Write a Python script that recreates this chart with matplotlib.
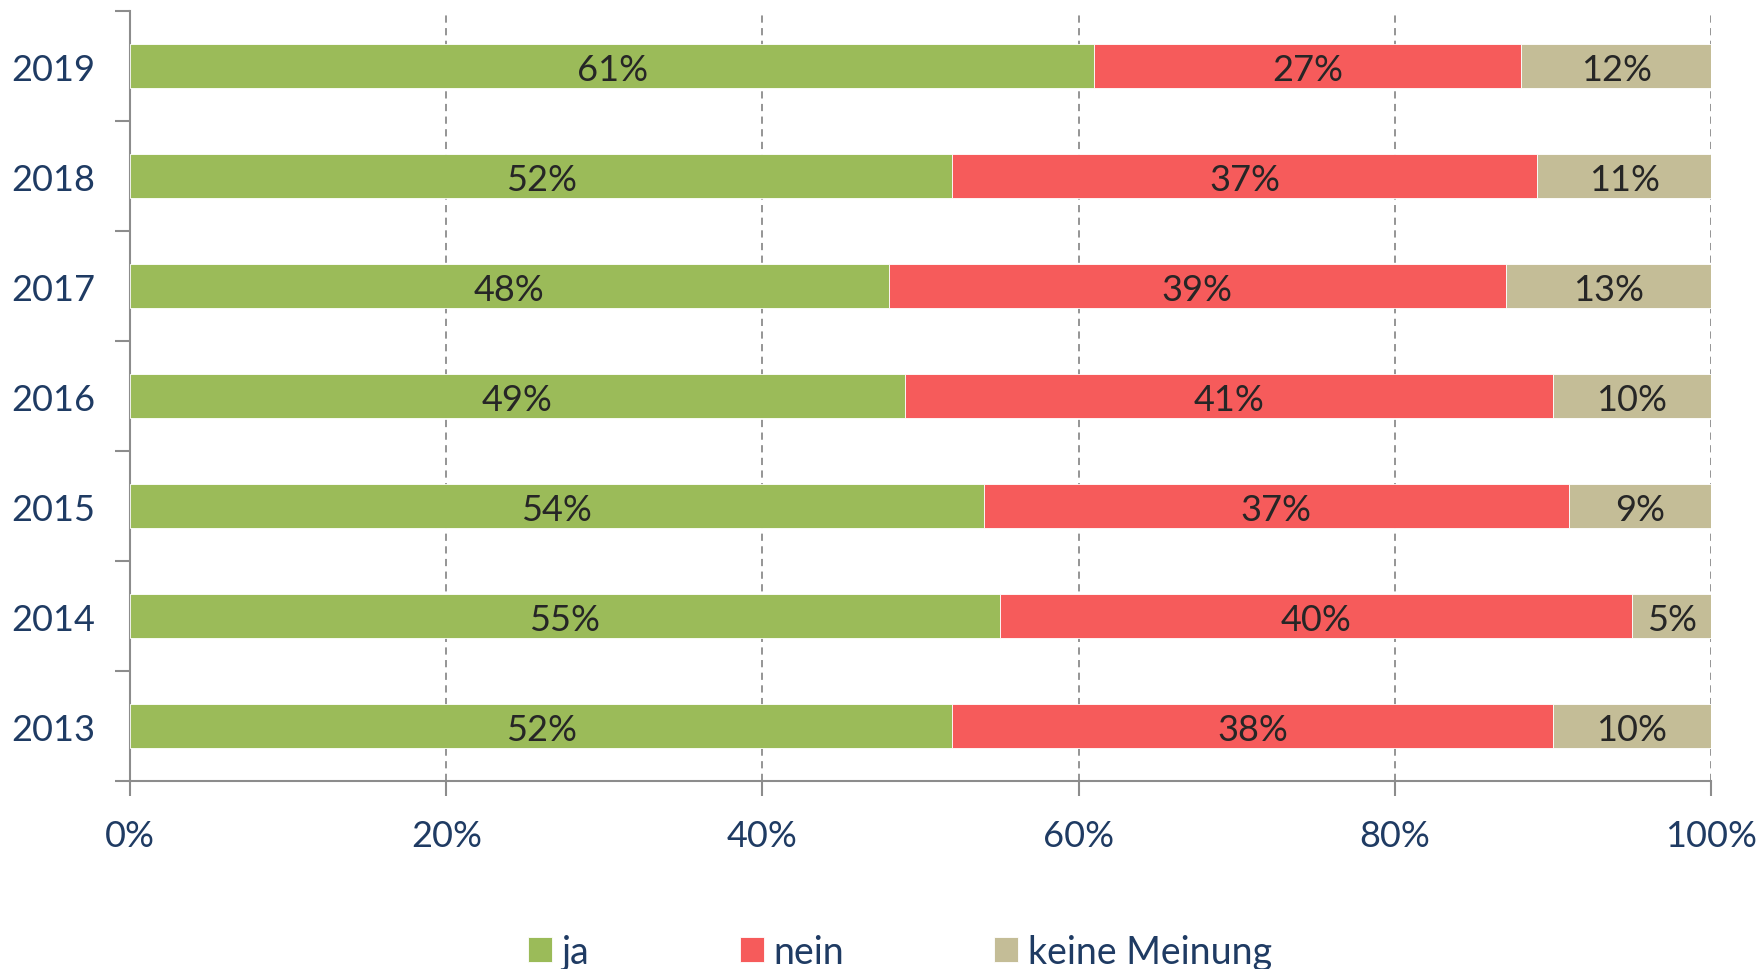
import numpy as np
import matplotlib.pyplot as plt
from matplotlib.ticker import FixedLocator

plt.rcParams['font.family'] = ['Lato', 'DejaVu Sans']

years = ["2013", "2014", "2015", "2016", "2017", "2018", "2019"]
ja = [52, 55, 54, 49, 48, 52, 61]
nein = [38, 40, 37, 41, 39, 37, 27]
keine = [10, 5, 9, 10, 13, 11, 12]

series = [("ja", ja, "#9BBB59"), ("nein", nein, "#F65B5B"), ("keine Meinung", keine, "#C4BD97")]
label_col = "#262626"
tick_col = "#1F3B63"
axis_col = "#8C8C8C"

fig = plt.figure(figsize=(17.6, 9.7), dpi=100)
ax = fig.add_axes([0.0739, 0.1938, 0.8983, 0.7938])

y = np.arange(len(years))
left = np.zeros(len(years))
for name, vals, col in series:
    vals = np.array(vals)
    ax.barh(y, vals, left=left, height=0.4, color=col, label=name,
            edgecolor="white", linewidth=0.6, zorder=3)
    for yi, l, v in zip(y, left, vals):
        ax.text(l + v / 2, yi, f"{v}%", ha="center", va="center_baseline",
                fontsize=26, color=label_col, zorder=4)
    left += vals

ax.set_xlim(0, 100)
ax.set_ylim(-0.5, len(years) - 0.5)
ax.set_xticks(np.arange(0, 101, 20))
ax.set_xticklabels([f"{t}%" for t in range(0, 101, 20)])
ax.set_yticks(y)
ax.set_yticklabels(years)
ax.yaxis.set_minor_locator(FixedLocator(np.arange(-0.5, len(years), 1.0)))

ax.tick_params(axis="y", which="major", length=0, pad=25, labelsize=26, labelcolor=tick_col)
ax.tick_params(axis="y", which="minor", length=11, width=1.5, color=axis_col, direction="out")
ax.tick_params(axis="x", which="major", length=11, width=1.5, color=axis_col, direction="out",
               pad=16, labelsize=26, labelcolor=tick_col)

ax.grid(axis="x", color="#8C8C8C", linestyle=(0, (4, 3)), linewidth=1.3, zorder=0)

for s in ["top", "right"]:
    ax.spines[s].set_visible(False)
for s in ["left", "bottom"]:
    ax.spines[s].set_color(axis_col)
    ax.spines[s].set_linewidth(1.5)

ax.legend(loc="center", bbox_to_anchor=(0.487, -0.222), ncol=3, frameon=False,
          fontsize=27, labelcolor=tick_col, handlelength=0.65, handleheight=0.65,
          handletextpad=0.25, columnspacing=4.0)

fig.savefig("out.png", dpi=100)
